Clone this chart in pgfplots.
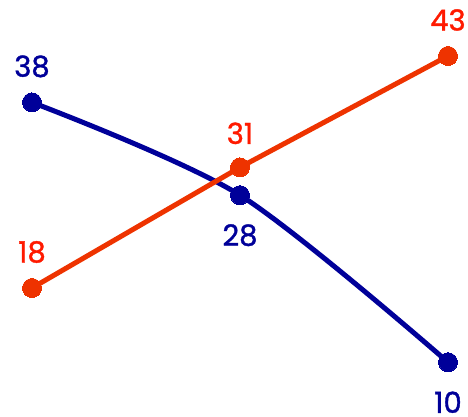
\documentclass[border=0pt]{standalone}
\usepackage{fontspec}
\setmainfont{Poppins}
\newfontfamily\lblfont{Poppins}[FakeBold=1.2]
\usepackage{pgfplots}
\pgfplotsset{compat=1.18}

\definecolor{navy}{HTML}{000099}
\definecolor{redline}{HTML}{EE3300}
\definecolor{redlabel}{HTML}{FF1A00}

\begin{document}
\begin{tikzpicture}
\begin{axis}[
    width=468pt, height=416pt,
    scale only axis,
    hide axis,
    clip=false,
    xmin=-0.1538, xmax=2.0962,
    ymin=4.207, ymax=49.03,
    /pgf/number format/assume math mode=true,
    lbl/.style={draw=none, mark=none,
        nodes near coords,
        every node near coord/.append style={font=\lblfont\fontsize{29}{29}\selectfont, anchor=center}},
]
% blue series
\addplot[navy, line width=5pt, smooth, mark=*, mark size=9.5pt,
    mark options={fill=navy, draw=navy, line width=0pt}]
    coordinates {(0,38) (1,28) (2,10)};
% red series
\addplot[redline, line width=5pt, mark=*, mark size=9.5pt,
    mark options={fill=redline, draw=redline, line width=0pt}]
    coordinates {(0,18) (1,31) (2,43)};

% labels
\addplot[lbl, every node near coord/.append style={text=navy, yshift=36pt}]
    coordinates {(0,38)};
\addplot[lbl, every node near coord/.append style={text=navy, yshift=-40pt}]
    coordinates {(1,28) (2,10)};
\addplot[lbl, every node near coord/.append style={text=redlabel, yshift=36pt}]
    coordinates {(0,18) (2,43)};
\addplot[lbl, every node near coord/.append style={text=redlabel, yshift=34pt}]
    coordinates {(1,31)};
\end{axis}
\pgfresetboundingbox
\path (current axis.south west) rectangle (current axis.north east);
\end{tikzpicture}
\end{document}
